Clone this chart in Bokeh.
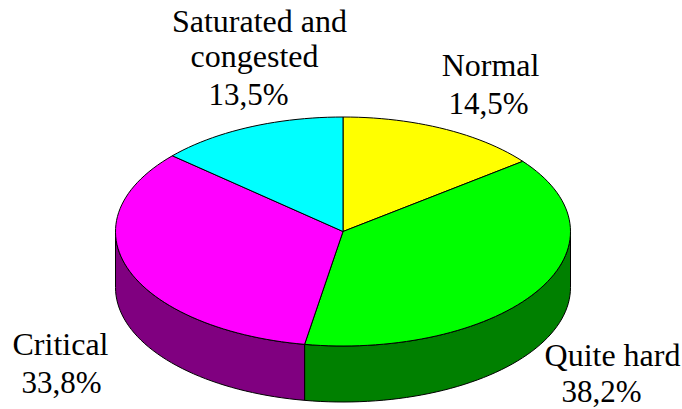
import numpy as np
from bokeh.plotting import figure
from bokeh.models import Range1d
from bokeh.core.properties import value
from bokeh.embed import file_html
from bokeh.resources import INLINE

# Data
categories = ["Normal", "Quite hard", "Critical", "Saturated and congested"]
shares = [14.5, 38.2, 33.8, 13.5]
top_colors = ["#ffff00", "#00ff00", "#ff00ff", "#00ffff"]
side_colors = ["#808000", "#008000", "#800080", "#008080"]

name_lines = ["Saturated and", "congested", "Normal", "Critical", "Quite hard"]
name_x = [259, 254, 490, 60, 612]
name_y = [20, 55, 64, 343, 354]
pct_lines = ["13,5%", "14,5%", "33,8%", "38,2%"]
pct_x = [248, 488, 61, 601]
pct_y = [94, 103, 382, 391]

# Layout in page pixels
CX, CY, RX, RY, DEPTH = 342.5, 231, 227.5, 114.5, 56

p = figure(width=682, height=409, output_backend="svg", toolbar_location=None,
           x_range=Range1d(0, 682), y_range=Range1d(409, 0),
           min_border=0, outline_line_color=None, background_fill_color="white")
p.axis.visible = False
p.grid.visible = False

edges = np.cumsum([0] + shares) / sum(shares) * 2 * np.pi


def rim(a0, a1, n=90):
    t = np.linspace(a0, a1, max(2, int(n * (a1 - a0) / np.pi) + 2))
    return CX + RX * np.sin(t), CY - RY * np.cos(t)


# Side wall: only the front half of the pie shows
for i in range(len(shares)):
    a0, a1 = max(edges[i], np.pi / 2), min(edges[i + 1], 3 * np.pi / 2)
    if a1 <= a0:
        continue
    x, y = rim(a0, a1)
    p.patch(np.r_[x, x[::-1]], np.r_[y, y[::-1] + DEPTH],
            fill_color=side_colors[i], line_color="black", line_width=1)

# Top face
for i in range(len(shares)):
    x, y = rim(edges[i], edges[i + 1])
    p.patch(np.r_[CX, x], np.r_[CY, y],
            fill_color=top_colors[i], line_color="black", line_width=1)

p.text(name_x, name_y, text=name_lines, text_font=value("Liberation Serif"),
       text_font_size="32px", text_color="black", text_align="center",
       text_baseline="alphabetic")
p.text(pct_x, pct_y, text=pct_lines, text_font=value("Liberation Serif"),
       text_font_size="31px", text_color="black", text_align="center",
       text_baseline="alphabetic")

open("out.html", "w").write(file_html(p, INLINE))
